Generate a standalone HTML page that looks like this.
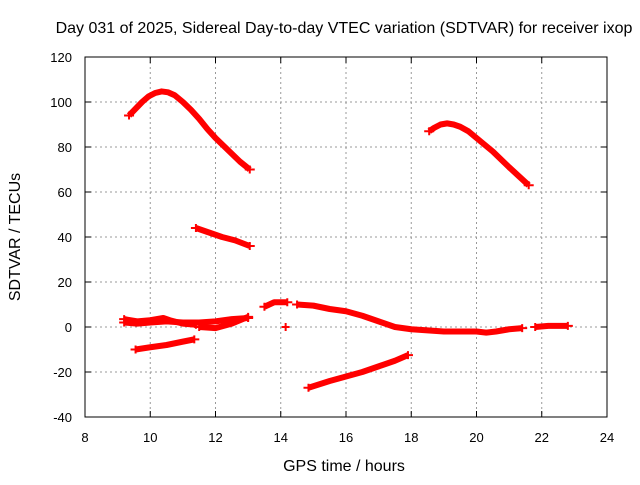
<!DOCTYPE html>
<html><head><meta charset="utf-8"><style>
body{margin:0;background:#fff}
svg text{font-family:"Liberation Sans",Arial,sans-serif;font-size:13px;fill:#000}
svg text.big{font-size:16px}
</style></head><body>
<svg id="chart" width="640" height="480" xmlns="http://www.w3.org/2000/svg">
<text class="big" x="344" y="33" text-anchor="middle">Day 031 of 2025, Sidereal Day-to-day VTEC variation (SDTVAR) for receiver ixop</text>
<g id="grid"></g>
<g id="ticks"></g>
<g id="series"></g>
<rect x="85" y="57" width="522" height="360" fill="none" stroke="#000" stroke-width="1"/>
<text class="big" x="344" y="471" text-anchor="middle">GPS time / hours</text>
<text class="big" transform="translate(20,237) rotate(-90)" text-anchor="middle">SDTVAR / TECUs</text>
</svg>
<script>
const xTicks=[8,10,12,14,16,18,20,22,24];
const yTicks=[-40,-20,0,20,40,60,80,100,120];
const trackArc1=[[9.35,94],[9.55,97],[9.75,100],[9.95,102.5],[10.15,104],[10.35,104.7],[10.55,104.3],[10.75,103],[11.0,100],[11.25,96.5],[11.5,92.5],[11.75,88],[12.0,84],[12.25,80.5],[12.5,77],[12.75,73.5],[13.05,70]];
const trackB=[[11.4,44],[11.8,42],[12.2,40],[12.6,38.5],[13.05,36]];
const trackArc2=[[18.55,87],[18.7,88.5],[18.9,90],[19.1,90.5],[19.3,90],[19.5,89],[19.75,87],[20.0,84],[20.25,81],[20.5,78],[20.75,74.5],[21.0,71],[21.3,67],[21.6,63]];
const trackD=[[9.2,2],[9.6,1.5],[10.0,2],[10.5,2.5],[11.0,2],[11.5,2],[12.0,2.5],[12.5,3.5],[13.0,4]];
const trackE=[[9.2,3.5],[9.6,2.5],[10.0,3],[10.4,4],[10.6,3],[11.0,1.5],[11.4,1]];
const trackF=[[9.55,-10],[10.0,-9],[10.5,-8],[11.0,-6.5],[11.35,-5.5]];
const trackG=[[11.5,0],[12.0,-0.5],[12.5,1.5],[13.0,4.5]];
const trackH=[[13.5,9],[13.8,11],[14.2,11]];
const trackI=[[14.5,10],[15.0,9.5],[15.5,8],[16.0,7],[16.5,5],[17.0,2.5],[17.5,0],[18.0,-1],[18.5,-1.5],[19.0,-2],[19.5,-2],[20.0,-2],[20.3,-2.5],[20.6,-2],[21.0,-1],[21.4,-0.5]];
const trackJ=[[21.8,0],[22.2,0.5],[22.8,0.5]];
const trackK=[[14.85,-27],[15.5,-24],[16.0,-22],[16.5,-20],[17.0,-17.5],[17.5,-15],[17.9,-12.5]];
const singlePoints=[[14.15,0]];
const tracks=[trackArc1,trackB,trackArc2,trackD,trackE,trackF,trackG,trackH,trackI,trackJ,trackK];
const X=t=>85+(t-8)*522/16, Y=v=>417-(v+40)*360/160;
const NS="http://www.w3.org/2000/svg";
function mk(tag,attrs,parent){const e=document.createElementNS(NS,tag);for(const k in attrs)e.setAttribute(k,attrs[k]);parent.appendChild(e);return e;}
const grid=document.getElementById('grid'),ticks=document.getElementById('ticks'),series=document.getElementById('series');
xTicks.forEach(t=>{const x=X(t);
 if(t>8&&t<24){const g=mk('line',{x1:x,x2:x,y1:57,y2:417,stroke:'#999','stroke-dasharray':'2,3'},grid);
 
 }
 mk('line',{x1:x,x2:x,y1:417,y2:411,stroke:'#000'},ticks);mk('line',{x1:x,x2:x,y1:57,y2:63,stroke:'#000'},ticks);
 const l=mk('text',{x:x,y:442,'text-anchor':'middle'},ticks);l.textContent=t;
 
 });
yTicks.forEach(v=>{const y=Y(v);
 if(v>-40&&v<120){const g=mk('line',{x1:85,x2:607,y1:y,y2:y,stroke:'#999','stroke-dasharray':'2,3'},grid);
 
 }
 mk('line',{x1:85,x2:91,y1:y,y2:y,stroke:'#000'},ticks);mk('line',{x1:607,x2:601,y1:y,y2:y,stroke:'#000'},ticks);
 const l=mk('text',{x:72,y:y+5,'text-anchor':'end'},ticks);l.textContent=v;
 
 });
tracks.forEach(tr=>{const p=mk('polyline',{points:tr.map(d=>X(d[0])+','+Y(d[1])).join(' '),fill:'none',stroke:'#f00','stroke-width':6,'stroke-linejoin':'round'},series);
 
 
 [tr[0],tr[tr.length-1]].forEach(d=>{const x=X(d[0]),y=Y(d[1]);
  mk('path',{d:`M${x-5},${y}H${x+5}M${x},${y-4}V${y+4}`,stroke:'#f00','stroke-width':2},series);});});
singlePoints.forEach(d=>{const x=X(d[0]),y=Y(d[1]);
 const p=mk('path',{d:`M${x-4},${y}H${x+4}M${x},${y-4}V${y+4}`,stroke:'#f00','stroke-width':2},series);
 
 });
</script>
</body></html>
